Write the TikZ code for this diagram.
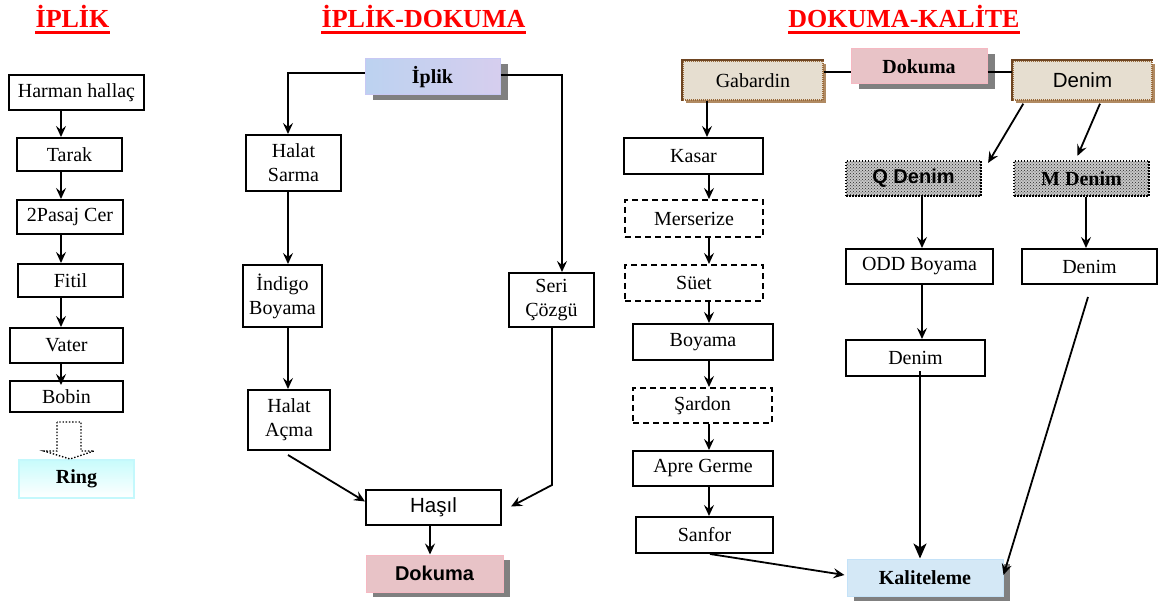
\documentclass[tikz,border=0pt]{standalone}
\usepackage{fontspec}
\setmainfont{Liberation Serif}
\newfontfamily\arialf{Liberation Sans}
\usetikzlibrary{arrows.meta,shadows,patterns,calc}
\definecolor{lav}{HTML}{C8C8F4}
\definecolor{iplA}{HTML}{BCD2F0}
\definecolor{iplB}{HTML}{D6CEEE}
\definecolor{pinkF}{HTML}{E8C3C7}
\definecolor{pinkB}{HTML}{F6B8C2}
\definecolor{kalF}{HTML}{D4E8F6}
\definecolor{kalB}{HTML}{C4E2F8}
\definecolor{beige}{HTML}{E6DED0}
\definecolor{brownD}{HTML}{6E4522}
\definecolor{brownL}{HTML}{9A6A3A}
\definecolor{brownS}{HTML}{B08A62}
\definecolor{shd}{HTML}{808080}
\definecolor{ringT}{HTML}{C8FCFC}
\definecolor{ringB}{HTML}{C4F8FC}
\begin{document}
\begin{tikzpicture}[x=1pt,y=-1pt,
  box/.style={draw, line width=2pt, inner sep=0pt, align=center, font=\fontsize{20}{24}\selectfont},
  dbox/.style={box, dash pattern=on 6pt off 4pt},
  arr/.style={line width=1.8pt, -{Stealth[length=11pt,width=10pt,inset=4pt]}},
  bigarr/.style={line width=1.8pt, -{Stealth[length=15pt,width=13pt,inset=4pt]}},
  ln/.style={line width=1.8pt},
  ttl/.style={font=\fontsize{26}{30}\selectfont\bfseries, text=red, inner sep=0pt, anchor=base},
  shadowed/.style={drop shadow={shadow xshift=#1, shadow yshift=-5pt, fill=shd, opacity=1}},
  bold/.style={font=\fontsize{20}{24}\selectfont\bfseries},
  sansb/.style={font=\fontsize{20}{24}\selectfont\arialf\bfseries},
  sans/.style={font=\fontsize{20.5}{24}\selectfont\arialf},
  dotb/.style={box, dash pattern=on 1.5pt off 1.5pt, line width=2.2pt, preaction={fill=black!22},
     pattern=crosshatch dots, pattern color=black!85},
  tex/.style={box, draw=brownL, line width=1.4pt, dash pattern=on 1pt off 1pt, fill=beige,
     drop shadow={shadow xshift=3pt, shadow yshift=-3pt, fill=brownS, opacity=1}},
]
\useasboundingbox (0,0) rectangle (1163,604);

% titles
\node[ttl] (t1) at (72.5,28) {İPLİK};
\node[ttl] (t2) at (423.5,28) {İPLİK-DOKUMA};
\node[ttl] (t3) at (904,28) {DOKUMA-KALİTE};
\foreach \t in {t1,t2,t3}
  \draw[red, line width=2.2pt] ([yshift=-4.5pt]\t.base west) -- ([yshift=-4.5pt]\t.base east);

% ---------- column 1
\node[box, minimum width=135pt, minimum height=35pt] (harman) at (76.5,92.5) {Harman hallaç};
\node[box, minimum width=105pt, minimum height=33pt] (tarak) at (69.5,154.5) {Tarak};
\node[box, minimum width=106pt, minimum height=34pt] (pasaj) at (70,217) {2Pasaj Cer};
\node[box, minimum width=105pt, minimum height=33pt] (fitil) at (70.5,280.5) {Fitil};
\node[box, minimum width=113pt, minimum height=35pt] (vater) at (66.5,345.5) {Vater};
\node[box, minimum width=113pt, minimum height=31pt] (bobin) at (66.5,396.5) {Bobin};
\node[box, bold, draw=ringB, line width=1.2pt, top color=ringT, bottom color=white,
      minimum width=115pt, minimum height=38pt] (ring) at (76.5,479) {Ring};
\coordinate (c61) at (61,0);
\draw[arr] (harman.south -| c61) -- (tarak.north -| c61);
\draw[arr] (tarak.south -| c61) -- (pasaj.north -| c61);
\draw[arr] (pasaj.south -| c61) -- (fitil.north -| c61);
\draw[arr] (fitil.south -| c61) -- (vater.north -| c61);
\draw[arr] (vater.south -| c61) -- ([yshift=-5pt]bobin.north -| c61);
\draw[line width=1.4pt, dash pattern=on 1.4pt off 1.8pt]
  (57,422) -- (57,451) -- (44,451) -- (70,459) -- (94,451) -- (81,451) -- (81,422) -- cycle;

% ---------- column 2
\node[box, bold, draw=lav, line width=1pt, left color=iplA, right color=iplB,
      shadowed=8pt, minimum width=135pt, minimum height=36pt] (iplik) at (432.5,77) {İplik};
\node[box, minimum width=95pt, minimum height=56pt] (hsarma) at (293.5,163) {Halat\\Sarma};
\node[box, minimum width=79pt, minimum height=62pt] (indigo) at (282.5,296) {İndigo\\Boyama};
\node[box, minimum width=82pt, minimum height=60pt] (hacma) at (289,420) {Halat\\Açma};
\node[box, minimum width=85pt, minimum height=54pt] (seri) at (551.5,300) {Seri\\Çözgü};
\node[box, sans, minimum width=135pt, minimum height=35pt] (hasil) at (433.5,507.5) {Haşıl};
\node[box, sansb, draw=pinkB, line width=1pt, fill=pinkF, shadowed=7pt,
      minimum width=137pt, minimum height=37pt] (dokuma2) at (434.5,573.5) {Dokuma};
\coordinate (c288) at (288,0);
\coordinate (c562) at (562,0);
\coordinate (c552) at (552,0);
\coordinate (c430) at (430,0);
\coordinate (sbend) at (552,485);
\draw[arr] ([yshift=4pt]iplik.west) -| (hsarma.north -| c288);
\draw[arr] ([yshift=2pt]iplik.east) -| (seri.north -| c562);
\draw[arr] (hsarma.south -| c288) -- (indigo.north -| c288);
\draw[arr] (indigo.south -| c288) -- (hacma.north -| c288);
\draw[arr] ([xshift=-1pt,yshift=-4pt]hacma.south) -- ([yshift=6pt]hasil.west);
\draw[arr] (seri.south -| c552) -- (sbend) -- ([xshift=9pt,yshift=1pt]hasil.east);
\draw[arr] (hasil.south -| c430) -- (dokuma2.north -| c430);

% ---------- column 3
\node[tex, minimum width=140pt, minimum height=39pt] (gab) at (753,80.5) {Gabardin};
\draw[brownD, line width=2pt] (gab.south west) -- (gab.north west) -- (gab.north east);
\node[box, bold, draw=pinkB, line width=1pt, fill=pinkF, shadowed=8pt,
      minimum width=136pt, minimum height=35pt] (dokuma3) at (919,66.5) {Dokuma};
\node[tex, sans, minimum width=139pt, minimum height=39pt] (denim1) at (1082.5,80.5) {Denim};
\draw[brownD, line width=2pt] (denim1.south west) -- (denim1.north west) -- (denim1.north east);
\coordinate (y72) at (0,72);
\draw[ln] (gab.east |- y72) -- (dokuma3.west |- y72);
\draw[ln] (dokuma3.east |- y72) -- (denim1.west |- y72);

\node[dotb, sansb, minimum width=135pt, minimum height=35pt] (qden) at (913.5,178.5) {Q Denim};
\node[dotb, bold, minimum width=135pt, minimum height=35pt] (mden) at (1081.5,178.5) {M Denim};
\draw[arr] ([xshift=11pt,yshift=-3pt]denim1.south west) -- ([xshift=6pt,yshift=-3pt]qden.north east);
\draw[arr] ([xshift=17.5pt,yshift=-3pt]denim1.south) -- ([xshift=-4pt,yshift=4pt]mden.north);

\node[box, minimum width=139pt, minimum height=36pt] (kasar) at (693.5,156) {Kasar};
\node[dbox, minimum width=138pt, minimum height=37pt] (mers) at (694,218.5) {Merserize};
\node[dbox, minimum width=138pt, minimum height=36pt] (suet) at (694,283) {Süet};
\node[box, minimum width=140pt, minimum height=36pt] (boy) at (703,342) {Boyama};
\node[dbox, minimum width=139pt, minimum height=35pt] (sard) at (702.5,405.5) {Şardon};
\node[box, minimum width=140pt, minimum height=35pt] (apre) at (703,468.5) {Apre Germe};
\node[box, minimum width=137pt, minimum height=36pt] (sanf) at (704.5,535) {Sanfor};
\coordinate (c707) at (707,0);
\coordinate (c709) at (709,0);
\draw[arr] (gab.south -| c707) -- (kasar.north -| c707);
\draw[arr] (kasar.south -| c709) -- (mers.north -| c709);
\draw[arr] (mers.south -| c709) -- (suet.north -| c709);
\draw[arr] (suet.south -| c709) -- (boy.north -| c709);
\draw[arr] (boy.south -| c709) -- (sard.north -| c709);
\draw[arr] (sard.south -| c709) -- (apre.north -| c709);
\draw[arr] (apre.south -| c709) -- (sanf.north -| c709);

\node[box, bold, draw=kalB, line width=1pt, fill=kalF, shadowed=7pt,
      minimum width=156pt, minimum height=37pt] (kal) at (925,577.5) {Kaliteleme};
\node[box, minimum width=147pt, minimum height=35pt] (odd) at (919.5,266.5) {ODD Boyama};
\node[box, minimum width=135pt, minimum height=35pt] (denr) at (1089.5,266.5) {Denim};
\node[box, minimum width=139pt, minimum height=36pt] (denm) at (915.5,358) {Denim};
\coordinate (c922) at (922,0);
\coordinate (c1086) at (1086,0);
\draw[arr] (qden.south -| c922) -- (odd.north -| c922);
\draw[arr] (mden.south -| c1086) -- (denr.north -| c1086);
\draw[arr] (odd.south -| c922) -- (denm.north -| c922);
\coordinate (dm) at ([xshift=4.5pt,yshift=6pt]denm.south);
\draw[bigarr] (dm) -- (dm |- kal.north);
\draw[arr] ([xshift=-1.5pt,yshift=-12pt]denr.south) -- ([yshift=2.5pt]kal.east);
\draw[arr] ([xshift=5.5pt]sanf.south) -- ([xshift=-2pt,yshift=2.5pt]kal.west);
\end{tikzpicture}
\end{document}
